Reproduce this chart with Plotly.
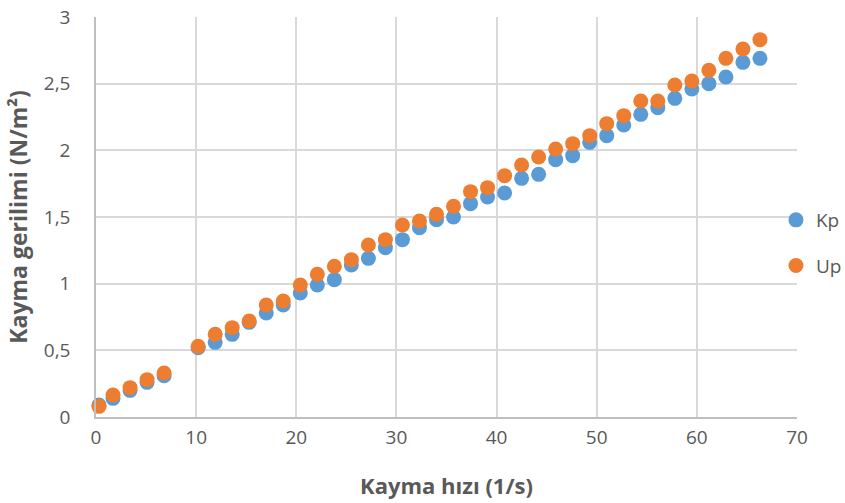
import plotly.graph_objects as go

shear_rate = [0.3, 1.7, 3.4, 5.1, 6.8, 10.2, 11.9, 13.6, 15.3, 17.0, 18.7, 20.4, 22.1, 23.8,
              25.5, 27.2, 28.9, 30.6, 32.3, 34.0, 35.7, 37.4, 39.1, 40.8, 42.5, 44.2, 45.9,
              47.6, 49.3, 51.0, 52.7, 54.4, 56.1, 57.8, 59.5, 61.2, 62.9, 64.6, 66.3]
kp = [0.09, 0.14, 0.20, 0.26, 0.31, 0.52, 0.56, 0.62, 0.71, 0.78, 0.84, 0.93, 0.99, 1.03,
      1.14, 1.19, 1.27, 1.33, 1.42, 1.48, 1.50, 1.60, 1.65, 1.68, 1.79, 1.82, 1.93,
      1.96, 2.06, 2.11, 2.19, 2.27, 2.32, 2.39, 2.46, 2.50, 2.55, 2.66, 2.69]
up = [0.08, 0.165, 0.22, 0.28, 0.33, 0.53, 0.62, 0.67, 0.72, 0.84, 0.87, 0.99, 1.07, 1.13,
      1.18, 1.29, 1.33, 1.44, 1.47, 1.52, 1.58, 1.69, 1.72, 1.81, 1.89, 1.95, 2.01,
      2.05, 2.11, 2.20, 2.26, 2.37, 2.37, 2.49, 2.52, 2.60, 2.69, 2.76, 2.83]

x_ticks = [0, 10, 20, 30, 40, 50, 60, 70]
y_ticks = [0, 0.5, 1, 1.5, 2, 2.5, 3]
y_tick_text = ["0", "0,5", "1", "1,5", "2", "2,5", "3"]

FONT = "Open Sans"
GRAY = "#595959"

fig = go.Figure()
fig.add_trace(go.Scatter(x=shear_rate, y=kp, mode="markers", name="Kp", legendgroup="a",
                         marker=dict(size=15, color="#5B9BD5"), cliponaxis=False))
fig.add_trace(go.Scatter(x=shear_rate, y=up, mode="markers", name="Up", legendgroup="b",
                         marker=dict(size=15, color="#ED7D31"), cliponaxis=False))

fig.update_layout(
    width=845, height=503,
    margin=dict(l=96, r=48, t=17, b=86, autoexpand=False),
    paper_bgcolor="white", plot_bgcolor="white",
    font=dict(family=FONT, color=GRAY, size=19),
    showlegend=True,
    legend=dict(x=0.970, xanchor="left", y=0.435, yanchor="middle",
                font=dict(size=19, color=GRAY), traceorder="grouped",
                tracegroupgap=18, itemwidth=30, bgcolor="rgba(0,0,0,0)"),
    xaxis=dict(range=[0, 70], tickvals=x_ticks, showgrid=True, gridcolor="#D9D9D9",
               gridwidth=1.5, zeroline=False, showline=True, linecolor="#BFBFBF", linewidth=1.5,
               ticks="outside", ticklen=2, tickcolor="rgba(0,0,0,0)", automargin=False,
               tickfont=dict(size=19, color=GRAY),
               title=dict(text="<b>Kayma hızı (1/s)</b>", font=dict(size=22, color=GRAY), standoff=30)),
    yaxis=dict(range=[0, 3], tickvals=y_ticks, ticktext=y_tick_text, showgrid=True,
               gridcolor="#D9D9D9", gridwidth=1.5, zeroline=False, showline=True,
               linecolor="#BFBFBF", linewidth=1.5,
               ticks="outside", ticklen=20, tickcolor="rgba(0,0,0,0)", automargin=False,
               tickfont=dict(size=19, color=GRAY),
               title=dict(text="<b>Kayma gerilimi (N/m²)</b>", font=dict(size=23, color=GRAY), standoff=10)),
)

fig.write_html("out.html", config={"displayModeBar": False},
               post_script="document.body.style.margin='0';")
